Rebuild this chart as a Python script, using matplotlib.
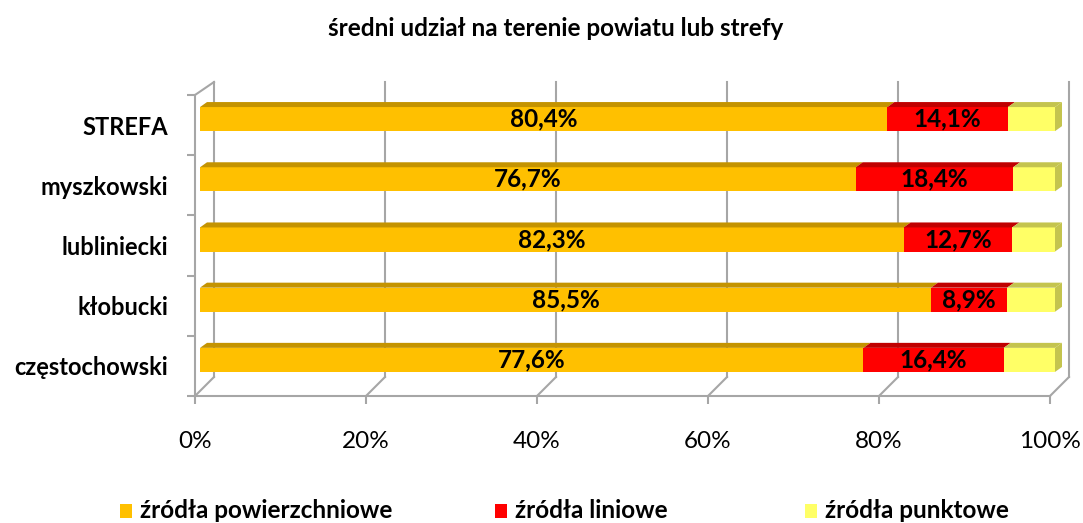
import matplotlib
matplotlib.use("Agg")
import matplotlib.pyplot as plt
from matplotlib.patches import Polygon, Rectangle
from matplotlib.transforms import ScaledTranslation, IdentityTransform

plt.rcParams['font.family'] = ['Lato', 'DejaVu Sans']

categories = ["częstochowski", "kłobucki", "lubliniecki", "myszkowski", "STREFA"]
powierzchniowe = [77.6, 85.5, 82.3, 76.7, 80.4]
liniowe = [16.4, 8.9, 12.7, 18.4, 14.1]
punktowe = [6.0, 5.6, 5.0, 4.9, 5.5]
series_names = ["źródła powierzchniowe", "źródła liniowe", "źródła punktowe"]
front_colors = ["#FFC000", "#FF0000", "#FFFF66"]
top_colors = ["#C49300", "#C00000", "#C4C44E"]
xticks = [0, 20, 40, 60, 80, 100]
xtick_labels = ["0%", "20%", "40%", "60%", "80%", "100%"]

W, H, DPI = 1083, 523, 100
fig = plt.figure(figsize=(W / DPI, H / DPI), dpi=DPI)
ax = fig.add_axes([195 / W, (H - 396) / H, 855 / W, 301 / H])
ax.set_xlim(0, 100)
ax.set_ylim(0, 5)
for s in ["top", "right"]:
    ax.spines[s].set_visible(False)
for s in ["left", "bottom"]:
    ax.spines[s].set_color("#A6A6A6")
    ax.spines[s].set_linewidth(1.5)

grid_c = "#A6A6A6"
px = lambda dx, dy: ScaledTranslation(dx / DPI, dy / DPI, fig.dpi_scale_trans)
back = ax.transData + px(19, 19)

# back wall gridlines and floor diagonals
for v in xticks:
    ax.plot([v, v], [0, 4.9], color=grid_c, lw=1.5, transform=back, clip_on=False, zorder=1)
    p0 = ax.transData.transform((v, 0))
    ax.add_line(plt.Line2D([p0[0], p0[0] + 19], [p0[1], p0[1] + 19], color=grid_c, lw=1.5,
                           transform=IdentityTransform(), clip_on=False, zorder=1))
# left wall top diagonal
p0 = ax.transData.transform((0, 5))
p1 = ax.transData.transform((0, 4.9))
ax.add_line(plt.Line2D([p0[0], p1[0] + 19], [p0[1], p1[1] + 19], color=grid_c, lw=1.5,
                       transform=IdentityTransform(), clip_on=False, zorder=1))

# ticks
ax.set_xticks(xticks)
ax.set_xticklabels(xtick_labels, fontsize=17.5)
ax.tick_params(axis="x", length=6, width=1.5, color=grid_c, pad=19)
ax.set_yticks(range(6))
ax.set_yticklabels([])
ax.tick_params(axis="y", which="major", length=6, width=1.5, color=grid_c)
ypos = [i + 0.5 for i in range(len(categories))]
ax.set_yticks(ypos, minor=True)
ax.set_yticklabels(categories, minor=True, fontsize=17, fontweight="bold")
ax.tick_params(axis="y", which="minor", length=0, pad=19.5)

# bars
bar_h = 0.4
dx, dy = 7, 5
bar_tr = ax.transData + px(5, 6)
series = [powierzchniowe, liniowe, punktowe]
lefts = [0.0] * len(categories)
for si, vals in enumerate(series):
    for ci, v in enumerate(vals):
        y = ypos[ci]
        l = lefts[ci]
        r = l + v
        ax.add_patch(Rectangle((l, y - bar_h / 2), v, bar_h, facecolor=front_colors[si],
                               edgecolor="none", transform=bar_tr, clip_on=False, zorder=3))
        a = bar_tr.transform((l, y + bar_h / 2))
        b = bar_tr.transform((r, y + bar_h / 2))
        ax.add_patch(Polygon([a, (a[0] + dx, a[1] + dy), (b[0] + dx, b[1] + dy), b],
                             closed=True, facecolor=top_colors[si], edgecolor="none",
                             transform=IdentityTransform(), clip_on=False, zorder=3))
        if si == len(series) - 1:
            c = bar_tr.transform((r, y - bar_h / 2))
            ax.add_patch(Polygon([c, b, (b[0] + dx, b[1] + dy), (c[0] + dx, c[1] + dy)],
                                 closed=True, facecolor=top_colors[si], edgecolor="none",
                                 transform=IdentityTransform(), clip_on=False, zorder=3))
        if si < 2:
            ax.text(l + v / 2, y, f"{v:.1f}%".replace(".", ","), ha="center", va="center",
                    fontsize=17.5, fontweight="bold", transform=bar_tr, zorder=4)
        lefts[ci] = r

fig.text(556 / W, 1 - 28 / H, "średni udział na terenie powiatu lub strefy", ha="center",
         va="center", fontsize=17.5, fontweight="bold")

# legend
leg_x = [120, 495, 805]
for x0, name, col in zip(leg_x, series_names, front_colors):
    fig.patches.append(Rectangle((x0 / W, 1 - 518 / H), 12 / W, 14 / H, facecolor=col,
                                 edgecolor="none", transform=fig.transFigure))
    fig.text((x0 + 20) / W, 1 - 511 / H, name, ha="left", va="center", fontsize=17.5,
             fontweight="bold")

fig.savefig("out.png", dpi=DPI)
